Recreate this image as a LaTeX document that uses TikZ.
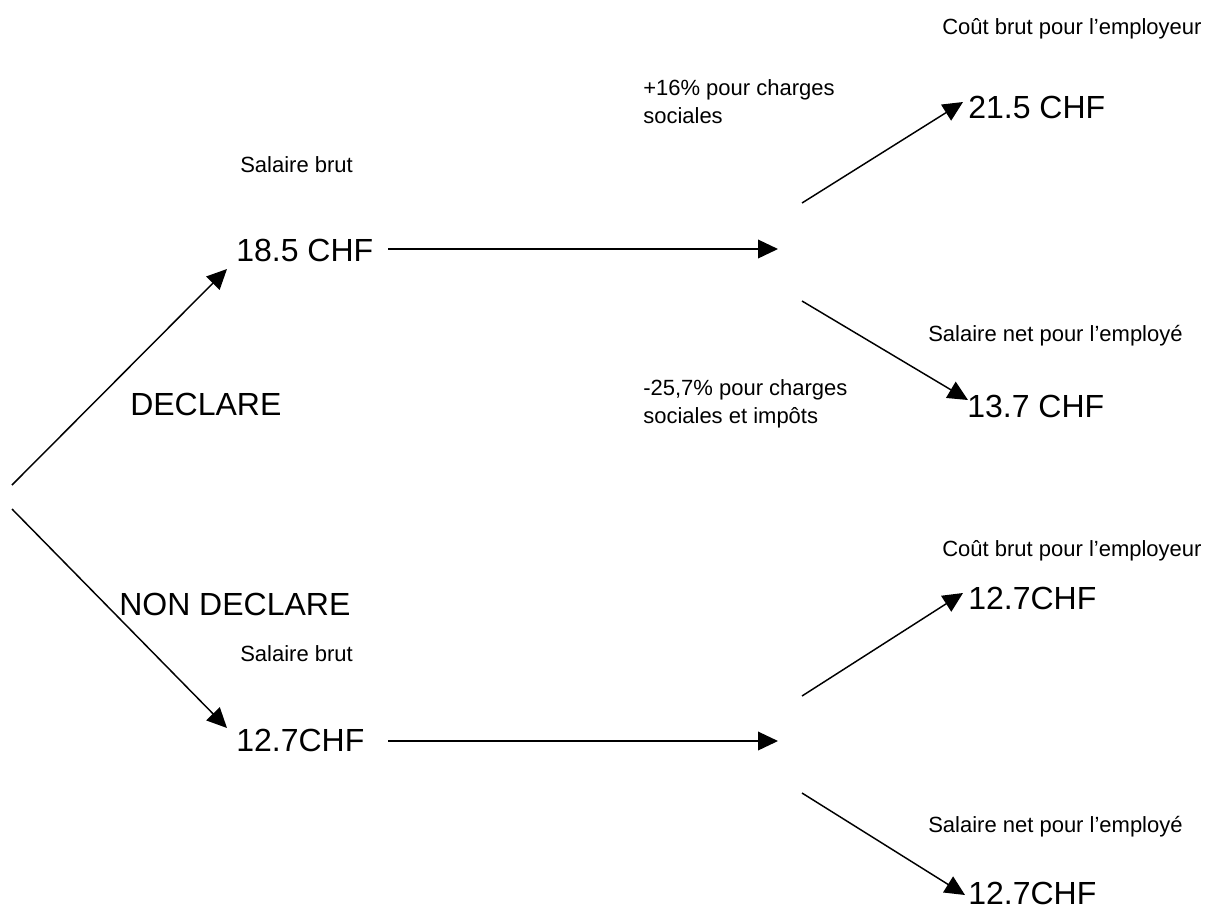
\documentclass[tikz,border=0pt]{standalone}
\usepackage{fontspec}
\setmainfont{Liberation Sans}
\usetikzlibrary{arrows.meta}

\begin{document}
\begin{tikzpicture}[
    x=0.75pt, y=0.75pt,
    big/.style={anchor=base west, inner sep=0pt, font=\fontsize{24}{29}\selectfont},
    small/.style={anchor=base west, inner sep=0pt, align=left,
                  font=\fontsize{16.5}{20.5}\selectfont},
    link/.style={draw=black, line width=1.1pt,
                 -{Triangle[length=15pt, width=14pt]}},
  ]
  \useasboundingbox (0,0) rectangle (1216,-915);
  % fork: declare / non declare
  \coordinate (forkup) at (12,-485);
  \coordinate (forkdown) at (12,-509);
  \node[big] (declare) at (130,-415) {DECLARE};
  \node[big] (nondeclare) at (119,-615) {NON DECLARE};
  % declared branch
  \node[small] (brutup) at (240,-172) {Salaire brut};
  \node[big] (grossup) at (236,-261) {18.5 CHF};
  \coordinate (grossupin) at (227,-269);
  \coordinate (grossupout) at (388,-249);
  \coordinate (splitupin) at (778,-249);
  \coordinate (costupout) at (802,-203);
  \coordinate (costupin) at (963,-102);
  \coordinate (netupout) at (802,-301);
  \coordinate (netupin) at (968,-400);
  \node[small] (plusup) at (643,-123) {+16\% pour charges\\sociales};
  \node[small] (minusup) at (643,-423) {-25,7\% pour charges\\sociales et impôts};
  \node[small] (costuplabel) at (942,-34) {Coût brut pour l’employeur};
  \node[big] (costup) at (968,-118) {21.5 CHF};
  \node[small] (netuplabel) at (928,-341) {Salaire net pour l’employé};
  \node[big] (netup) at (967,-417) {13.7 CHF};
  % undeclared branch
  \node[small] (brutdown) at (240,-661) {Salaire brut};
  \node[big] (grossdown) at (236,-751) {12.7CHF};
  \coordinate (grossdownin) at (227,-728);
  \coordinate (grossdownout) at (388,-741);
  \coordinate (splitdownin) at (778,-741);
  \coordinate (costdownout) at (802,-696);
  \coordinate (costdownin) at (963,-593);
  \coordinate (netdownout) at (802,-793);
  \coordinate (netdownin) at (965,-895);
  \node[small] (costdownlabel) at (942,-556) {Coût brut pour l’employeur};
  \node[big] (costdown) at (968,-609) {12.7CHF};
  \node[small] (netdownlabel) at (928,-832) {Salaire net pour l’employé};
  \node[big] (netdown) at (968,-904) {12.7CHF};
  % arrows
  \draw[link] (forkup) -- (grossupin);
  \draw[link] (forkdown) -- (grossdownin);
  \draw[link] (grossupout) -- (splitupin);
  \draw[link] (costupout) -- (costupin);
  \draw[link] (netupout) -- (netupin);
  \draw[link] (grossdownout) -- (splitdownin);
  \draw[link] (costdownout) -- (costdownin);
  \draw[link] (netdownout) -- (netdownin);
\end{tikzpicture}
\end{document}
